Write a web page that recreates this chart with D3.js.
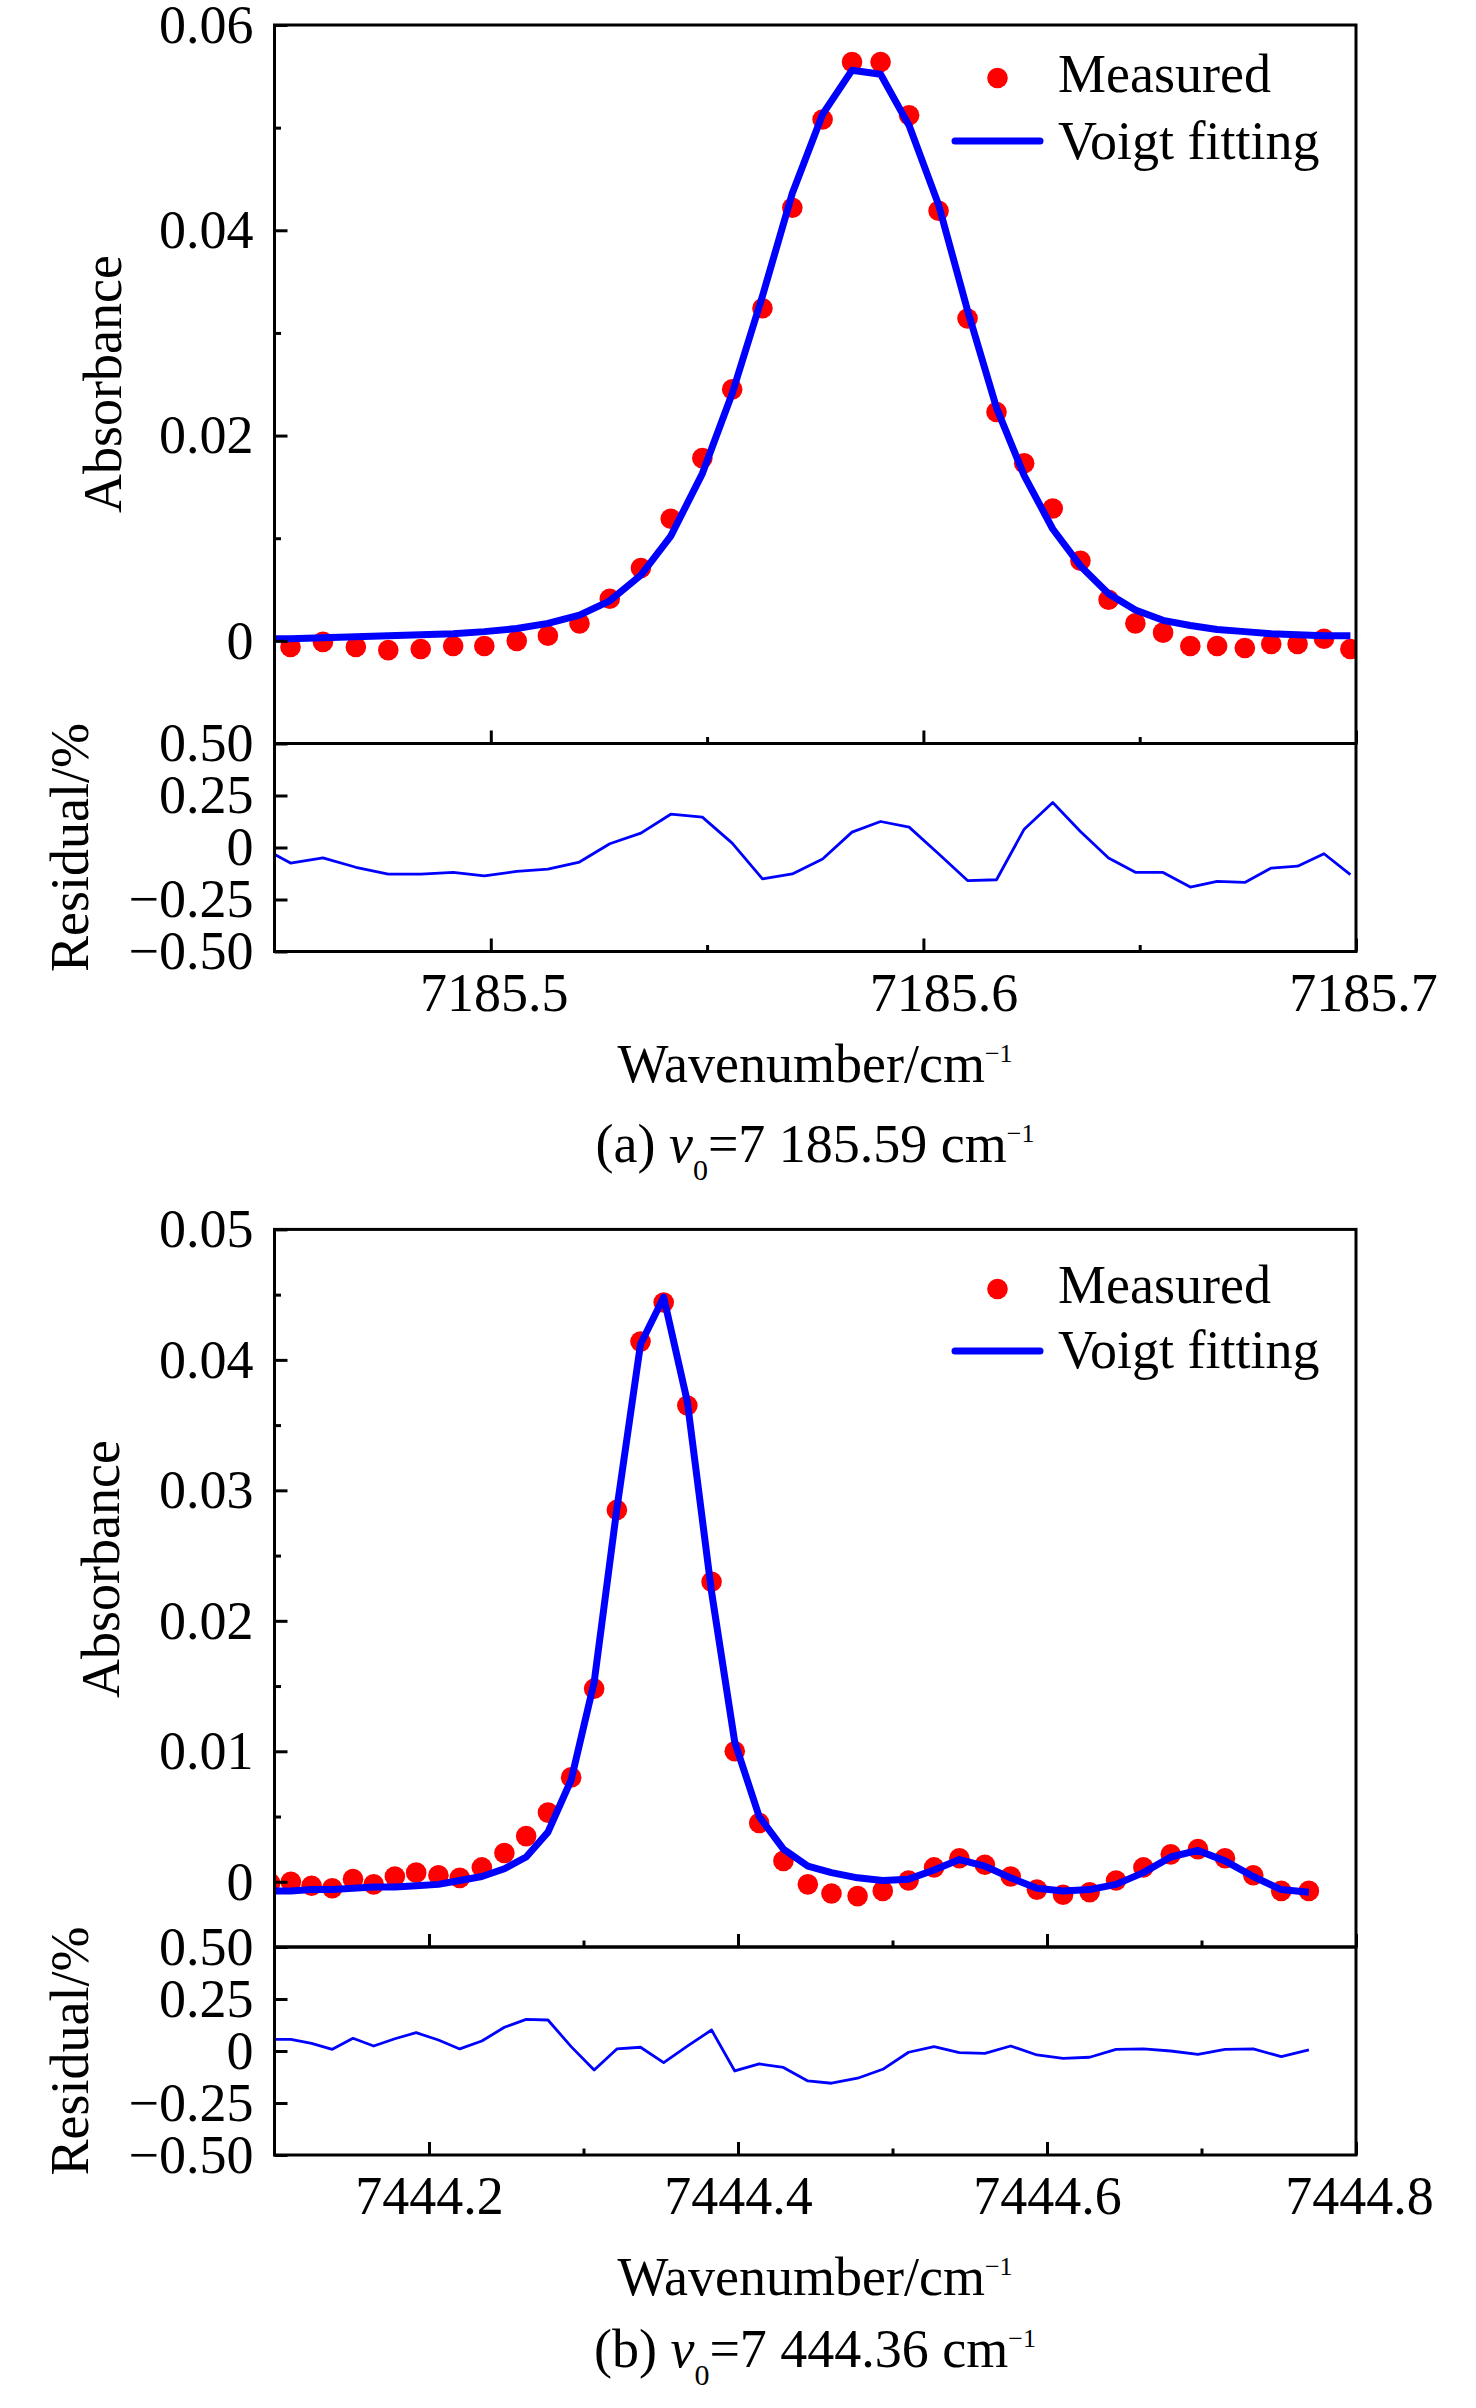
<!DOCTYPE html>
<html>
<head>
<meta charset="utf-8">
<script src="https://cdn.jsdelivr.net/npm/d3@7"></script>
<style>
  body { margin: 0; background: #fff; }
  text { font-family: "Liberation Serif", "Times New Roman", serif; }
</style>
</head>
<body>
<svg id="chart" width="1476" height="2408"></svg>
<script>
// ---------------- Data: panel (a) ----------------
const wavenumberA = [7185.4462, 7185.4537, 7185.4612, 7185.4688, 7185.4763, 7185.4838, 7185.4913, 7185.4985,
  7185.5060, 7185.5132, 7185.5205, 7185.5275, 7185.5347, 7185.5416, 7185.5489, 7185.5558, 7185.5628,
  7185.5697, 7185.5767, 7185.5835, 7185.5901, 7185.5967, 7185.6035, 7185.6102, 7185.6169, 7185.6233,
  7185.6299, 7185.6363, 7185.6428, 7185.6490, 7185.6554, 7185.6617, 7185.6679, 7185.6743, 7185.6804,
  7185.6865, 7185.6926, 7185.6987];
const measuredA = [null, -0.0006, -0.0001, -0.0006, -0.0009, -0.0008, -0.0005, -0.0005, 0.0000, 0.0005,
  0.0017, 0.0041, 0.0071, 0.0119, 0.0178, 0.0245, 0.0324, 0.0422, 0.0508, 0.0564, 0.0564, 0.0512, 0.0419,
  0.0314, 0.0223, 0.0173, 0.0129, 0.0078, 0.0040, 0.0017, 0.0008, -0.0005, -0.0005, -0.0007, -0.0003,
  -0.0003, 0.0002, -0.0008];
const fitA = [0.0002, 0.0002, 0.0003, 0.0004, 0.0005, 0.0006, 0.0007, 0.0009, 0.0012, 0.0017, 0.0025,
  0.0039, 0.0064, 0.0102, 0.0163, 0.0241, 0.0336, 0.0436, 0.0513, 0.0556, 0.0552, 0.0502, 0.0425, 0.0322,
  0.0227, 0.0161, 0.0109, 0.0073, 0.0046, 0.0030, 0.0020, 0.0015, 0.0011, 0.0009, 0.0007, 0.0006, 0.0005,
  0.0005];
const residualA = [0.010, -0.075, -0.050, -0.095, -0.128, -0.128, -0.120, -0.136, -0.115, -0.104, -0.070,
  0.018, 0.069, 0.160, 0.146, 0.021, -0.151, -0.127, -0.055, 0.074, 0.125, 0.098, -0.030, -0.159, -0.155,
  0.088, 0.216, 0.077, -0.051, -0.119, -0.120, -0.190, -0.163, -0.168, -0.099, -0.090, -0.030, -0.130];

// ---------------- Data: panel (b) ----------------
const wavenumberB = [7444.0972, 7444.1106, 7444.1240, 7444.1374, 7444.1508, 7444.1642, 7444.1779, 7444.1917,
  7444.2061, 7444.2199, 7444.2342, 7444.2488, 7444.2629, 7444.2770, 7444.2920, 7444.3069, 7444.3216,
  7444.3369, 7444.3519, 7444.3672, 7444.3829, 7444.3979, 7444.4137, 7444.4294, 7444.4452, 7444.4605,
  7444.4774, 7444.4937, 7444.5104, 7444.5269, 7444.5433, 7444.5598, 7444.5765, 7444.5935, 7444.6104,
  7444.6276, 7444.6447, 7444.6624, 7444.6801, 7444.6977, 7444.7152, 7444.7335, 7444.7516, 7444.7695];
const measuredB = [-0.0001, 0.0000, -0.0003, -0.0005, 0.0002, -0.0002, 0.0004, 0.0007, 0.0005, 0.0003,
  0.0011, 0.0022, 0.0035, 0.0053, 0.0080, 0.0148, 0.0285, 0.0414, 0.0444, 0.0365, 0.0230, 0.0100, 0.0045,
  0.0016, -0.0002, -0.0009, -0.0011, -0.0007, 0.0001, 0.0011, 0.0018, 0.0013, 0.0004, -0.0006, -0.0010,
  -0.0008, 0.0001, 0.0011, 0.0021, 0.0025, 0.0018, 0.0005, -0.0007, -0.0007];
const fitB = [-0.0007, -0.0007, -0.0006, -0.0006, -0.0005, -0.0004, -0.0004, -0.0003, -0.0002, 0.0001,
  0.0004, 0.0010, 0.0019, 0.0038, 0.0078, 0.0153, 0.0286, 0.0412, 0.0448, 0.0368, 0.0222, 0.0107, 0.0050,
  0.0025, 0.0012, 0.0007, 0.0003, 0.0001, 0.0002, 0.0009, 0.0017, 0.0012, 0.0003, -0.0005, -0.0007,
  -0.0006, -0.0002, 0.0007, 0.0019, 0.0024, 0.0016, 0.0004, -0.0006, -0.0008];
const residualB = [0.056, 0.056, 0.037, 0.008, 0.061, 0.024, 0.059, 0.088, 0.053, 0.010, 0.048, 0.114,
  0.152, 0.149, 0.021, -0.091, 0.010, 0.018, -0.056, 0.023, 0.101, -0.096, -0.062, -0.079, -0.144, -0.155,
  -0.131, -0.088, -0.006, 0.021, -0.008, -0.011, 0.024, -0.019, -0.035, -0.030, 0.008, 0.010, 0.000,
  -0.016, 0.008, 0.010, -0.027, 0.005];

// ---------------- Ticks & labels ----------------
const xMajorA = [7185.5, 7185.6, 7185.7];
const xMinorA = [7185.55, 7185.65];
const yMajorA = [0, 0.02, 0.04, 0.06];
const yMinorA = [0.01, 0.03, 0.05];
const xMajorB = [7444.2, 7444.4, 7444.6, 7444.8];
const xMinorB = [7444.3, 7444.5, 7444.7];
const yMajorB = [0, 0.01, 0.02, 0.03, 0.04, 0.05];
const yMinorB = [0.005, 0.015, 0.025, 0.035, 0.045];
const residualTicks = [-0.5, -0.25, 0, 0.25, 0.5];
const residualTickLabels = ["\u22120.50", "\u22120.25", "0", "0.25", "0.50"];
const legendLabels = ["Measured", "Voigt fitting"];
const yTitleMain = "Absorbance";
const yTitleResidual = "Residual/%";
const xTitle = "Wavenumber/cm";
const captionA = ["(a) ", "v", "0", "=7 185.59 cm", "\u22121"];
const captionB = ["(b) ", "v", "0", "=7 444.36 cm", "\u22121"];

// ---------------- Drawing ----------------
const FONT = '"Liberation Serif", "Times New Roman", serif';
const FS = 54;
const BLUE = "#0000ff";
const RED = "#ff0000";
const svg = d3.select("#chart");
svg.append("rect").attr("width", 1476).attr("height", 2408).attr("fill", "#fff");

let clipId = 0;
function styleAxis(g) {
  g.attr("font-family", FONT).attr("font-size", FS);
  g.select(".domain").remove();
  g.selectAll(".tick line").attr("stroke", "#000").attr("stroke-width", 3);
  g.selectAll(".tick text").attr("fill", "#000");
}

function drawPanel(cfg) {
  const left = 274.5, right = 1356;
  const x = d3.scaleLinear().domain(cfg.xDomain).range([left, right]);
  const y = d3.scaleLinear().domain(cfg.yDomain).range([cfg.mainBottom, cfg.top]);
  const yr = d3.scaleLinear().domain([-0.5, 0.5]).range([cfg.resBottom, cfg.mainBottom]);
  const g = svg.append("g");

  const cm = "clipM" + (clipId++), cr = "clipR" + (clipId++);
  const defs = g.append("defs");
  defs.append("clipPath").attr("id", cm).append("rect")
    .attr("x", left).attr("y", cfg.top).attr("width", right - left).attr("height", cfg.mainBottom - cfg.top);
  defs.append("clipPath").attr("id", cr).append("rect")
    .attr("x", left).attr("y", cfg.mainBottom).attr("width", right - left).attr("height", cfg.resBottom - cfg.mainBottom);

  const pts = cfg.wn.map((w, i) => ({ w, m: cfg.measured[i], f: cfg.fit[i], r: cfg.residual[i] }));
  const gm = g.append("g").attr("clip-path", `url(#${cm})`);
  gm.selectAll("circle").data(pts.filter(d => d.m !== null)).join("circle")
    .attr("cx", d => x(d.w)).attr("cy", d => y(d.m)).attr("r", 10.3).attr("fill", RED);
  gm.append("path").datum(pts)
    .attr("d", d3.line().x(d => x(d.w)).y(d => y(d.f)))
    .attr("fill", "none").attr("stroke", BLUE).attr("stroke-width", 7).attr("stroke-linejoin", "round");

  g.append("g").attr("clip-path", `url(#${cr})`).append("path").datum(pts)
    .attr("d", d3.line().x(d => x(d.w)).y(d => yr(d.r)))
    .attr("fill", "none").attr("stroke", BLUE).attr("stroke-width", 2.8).attr("stroke-linejoin", "round");

  g.append("rect").attr("x", left).attr("y", cfg.top).attr("width", right - left).attr("height", cfg.mainBottom - cfg.top)
    .attr("fill", "none").attr("stroke", "#000").attr("stroke-width", 3);
  g.append("rect").attr("x", left).attr("y", cfg.mainBottom).attr("width", right - left).attr("height", cfg.resBottom - cfg.mainBottom)
    .attr("fill", "none").attr("stroke", "#000").attr("stroke-width", 3);

  const fmtY = v => v === 0 ? "0" : d3.format(".2f")(v);
  g.append("g").attr("transform", `translate(${left},0)`)
    .call(d3.axisLeft(y).tickValues(cfg.yMajor).tickFormat(fmtY).tickSizeInner(-13).tickSizeOuter(0).tickPadding(21))
    .call(styleAxis);
  g.append("g").attr("transform", `translate(${left},0)`)
    .call(d3.axisLeft(y).tickValues(cfg.yMinor).tickFormat("").tickSizeInner(-6.5).tickSizeOuter(0))
    .call(styleAxis);
  g.append("g").attr("transform", `translate(0,${cfg.mainBottom})`)
    .call(d3.axisBottom(x).tickValues(cfg.xMajor).tickFormat("").tickSizeInner(-13).tickSizeOuter(0))
    .call(styleAxis);
  g.append("g").attr("transform", `translate(0,${cfg.mainBottom})`)
    .call(d3.axisBottom(x).tickValues(cfg.xMinor).tickFormat("").tickSizeInner(-6.5).tickSizeOuter(0))
    .call(styleAxis);

  g.append("g").attr("transform", `translate(${left},0)`)
    .call(d3.axisLeft(yr).tickValues(residualTicks).tickFormat((v, i) => residualTickLabels[i]).tickSizeInner(-13).tickSizeOuter(0).tickPadding(21))
    .call(styleAxis);
  const xb = g.append("g").attr("transform", `translate(0,${cfg.resBottom})`)
    .call(d3.axisBottom(x).tickValues(cfg.xMajor).tickFormat(d3.format(".1f")).tickSizeInner(-13).tickSizeOuter(0).tickPadding(21))
    .call(styleAxis);
  xb.selectAll(".tick text").attr("dx", (d, i) => cfg.xLabelShift[i] || 0);
  g.append("g").attr("transform", `translate(0,${cfg.resBottom})`)
    .call(d3.axisBottom(x).tickValues(cfg.xMinor).tickFormat("").tickSizeInner(-6.5).tickSizeOuter(0))
    .call(styleAxis);

  const lg = g.append("g");
  lg.append("circle").attr("cx", 997.5).attr("cy", cfg.legDotY).attr("r", 10.3).attr("fill", RED);
  lg.append("text").attr("x", 1058).attr("y", cfg.legText1Y).attr("font-size", FS).text(legendLabels[0]);
  lg.append("line").attr("x1", 955).attr("x2", 1040).attr("y1", cfg.legLineY).attr("y2", cfg.legLineY)
    .attr("stroke", BLUE).attr("stroke-width", 7).attr("stroke-linecap", "round");
  lg.append("text").attr("x", 1058).attr("y", cfg.legText2Y).attr("font-size", FS).text(legendLabels[1]);

  g.append("text").attr("transform", `translate(${cfg.absX},${cfg.absY}) rotate(-90)`)
    .attr("text-anchor", "middle").attr("font-size", FS).text(yTitleMain);
  g.append("text").attr("transform", `translate(88,${(cfg.mainBottom + cfg.resBottom) / 2}) rotate(-90)`)
    .attr("text-anchor", "middle").attr("font-size", FS).text(yTitleResidual);

  const xt = g.append("text").attr("x", 815).attr("y", cfg.xTitleY).attr("text-anchor", "middle").attr("font-size", FS);
  xt.append("tspan").text(xTitle);
  xt.append("tspan").attr("font-size", 26).attr("dy", -20).text("\u22121");

  const c = cfg.caption;
  const ct = g.append("text").attr("x", 815).attr("y", cfg.captionY).attr("text-anchor", "middle").attr("font-size", FS);
  ct.append("tspan").text(c[0]);
  ct.append("tspan").attr("font-style", "italic").text(c[1]);
  ct.append("tspan").attr("font-size", 30).attr("dy", 18).text(c[2]);
  ct.append("tspan").attr("font-size", FS).attr("dy", -18).text(c[3]);
  ct.append("tspan").attr("font-size", 26).attr("dy", -20).text(c[4]);
}

drawPanel({
  wn: wavenumberA, measured: measuredA, fit: fitA, residual: residualA,
  xDomain: [7185.45, 7185.7], yDomain: [-0.01, 0.06],
  top: 25, mainBottom: 743.5, resBottom: 951.5,
  xMajor: xMajorA, xMinor: xMinorA, yMajor: yMajorA, yMinor: yMinorA, xLabelShift: [3, 20, 7],
  legDotY: 78, legText1Y: 92, legLineY: 141, legText2Y: 159,
  absX: 121, absY: 384, xTitleY: 1082, captionY: 1162, caption: captionA
});

drawPanel({
  wn: wavenumberB, measured: measuredB, fit: fitB, residual: residualB,
  xDomain: [7444.1, 7444.8], yDomain: [-0.005, 0.05],
  top: 1229.4, mainBottom: 1947, resBottom: 2155,
  xMajor: xMajorB, xMinor: xMinorB, yMajor: yMajorB, yMinor: yMinorB, xLabelShift: [0, 0, 0, 3],
  legDotY: 1289, legText1Y: 1303, legLineY: 1351, legText2Y: 1368,
  absX: 119, absY: 1569, xTitleY: 2295, captionY: 2367, caption: captionB
});
</script>
</body>
</html>
